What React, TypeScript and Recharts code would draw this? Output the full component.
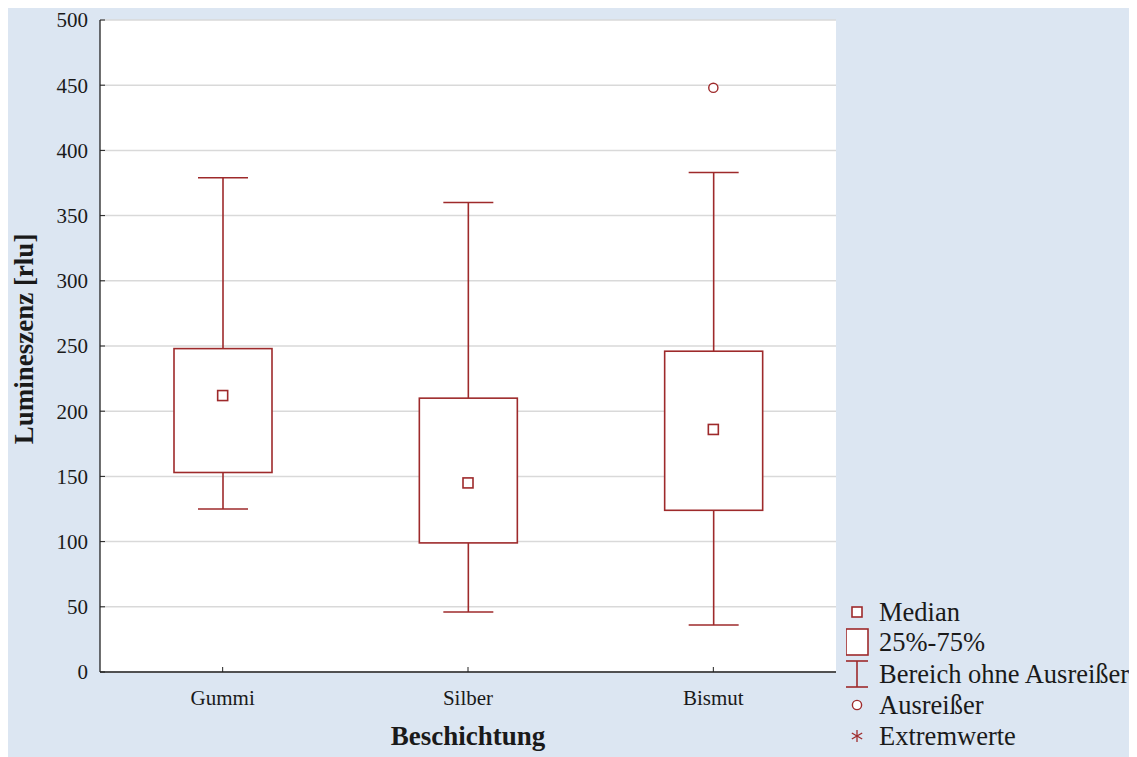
import { ComposedChart, Bar, Scatter, XAxis, YAxis, CartesianGrid, Label } from "recharts";

// Box-plot statistics per coating
const groups = ["Gummi", "Silber", "Bismut"];
const whiskerLow = [125, 46, 36];
const quartile1 = [153, 99, 124];
const medians = [212, 145, 186];
const quartile3 = [248, 210, 246];
const whiskerHigh = [379, 360, 383];
const outliers: (number | null)[] = [null, null, 448];
const yTicks = [0, 50, 100, 150, 200, 250, 300, 350, 400, 450, 500];

const legendItems = ["Median", "25%-75%", "Bereich ohne Ausreißer", "Ausreißer", "Extremwerte"];

const data = groups.map((name, i) => ({
  name,
  range: [whiskerLow[i], whiskerHigh[i]],
  q1: quartile1[i],
  q3: quartile3[i],
  median: medians[i],
  outlier: outliers[i],
}));

const RED = "#9e2a2b";
const INK = "#1a1a1a";
const FONT = '"Liberation Serif", "Times New Roman", serif';

// The bar spans the whisker range; the quartile box is placed inside it
// by mapping values linearly over the bar's own pixel extent.
function BoxWhisker(props: any) {
  const { x, y, width, height, payload } = props;
  const [lo, hi] = payload.range;
  const top = Math.min(y, y + height);
  const h = Math.abs(height);
  const toY = (v: number) => top + (h * (hi - v)) / (hi - lo);
  const cx = x + width / 2;
  const cap = 25;
  const yQ3 = toY(payload.q3);
  const yQ1 = toY(payload.q1);
  return (
    <g stroke={RED} strokeWidth={1.6} fill="none">
      <line x1={cx} x2={cx} y1={top} y2={yQ3} />
      <line x1={cx} x2={cx} y1={yQ1} y2={top + h} />
      <line x1={cx - cap} x2={cx + cap} y1={top} y2={top} />
      <line x1={cx - cap} x2={cx + cap} y1={top + h} y2={top + h} />
      <rect x={x} y={yQ3} width={width} height={yQ1 - yQ3} fill="#fff" />
    </g>
  );
}

const MedianMark = (p: any) =>
  p.cx == null || p.cy == null ? null : (
    <rect x={p.cx - 5} y={p.cy - 5} width={10} height={10} fill="#fff" stroke={RED} strokeWidth={1.6} />
  );

const OutlierMark = (p: any) =>
  p.payload?.outlier == null || p.cy == null || Number.isNaN(p.cy) ? null : (
    <circle cx={p.cx} cy={p.cy} r={4.6} fill="#fff" stroke={RED} strokeWidth={1.4} />
  );

const XTitle = ({ viewBox }: any) => (
  <text
    x={viewBox.x + viewBox.width / 2}
    y={viewBox.y + 73}
    textAnchor="middle"
    fontFamily={FONT}
    fontSize={27}
    fontWeight="bold"
    fill={INK}
  >
    Beschichtung
  </text>
);

const YTitle = ({ viewBox }: any) => {
  const cx = 25;
  const cy = viewBox.y + viewBox.height / 2 - 7;
  return (
    <text
      x={cx}
      y={cy}
      transform={`rotate(-90 ${cx} ${cy})`}
      textAnchor="middle"
      fontFamily={FONT}
      fontSize={27}
      fontWeight="bold"
      fill={INK}
    >
      Lumineszenz [rlu]
    </text>
  );
};

function LegendPanel() {
  const rows = [16, 46, 78, 109, 140];
  const sx = 11;
  return (
    <svg width={295} height={160} style={{ position: "absolute", left: 838, top: 590 }}>
      <g stroke={RED} fill="#fff" strokeWidth={1.6}>
        <rect x={sx - 5} y={rows[0] - 5} width={10} height={10} />
        <rect x={sx - 11} y={rows[1] - 13} width={22} height={26} />
        <line x1={sx - 11} x2={sx + 11} y1={rows[2] - 13} y2={rows[2] - 13} />
        <line x1={sx} x2={sx} y1={rows[2] - 13} y2={rows[2] + 13} />
        <line x1={sx - 11} x2={sx + 11} y1={rows[2] + 13} y2={rows[2] + 13} />
        <circle cx={sx} cy={rows[3]} r={4.6} strokeWidth={1.4} />
        <g strokeWidth={1.3}>
          <line x1={sx} x2={sx} y1={rows[4] - 6} y2={rows[4] + 6} />
          <line x1={sx - 5.2} x2={sx + 5.2} y1={rows[4] - 3} y2={rows[4] + 3} />
          <line x1={sx - 5.2} x2={sx + 5.2} y1={rows[4] + 3} y2={rows[4] - 3} />
        </g>
      </g>
      {legendItems.map((label, i) => (
        <text
          key={label}
          x={33}
          y={rows[i]}
          dy="0.35em"
          fontFamily={FONT}
          fontSize={26.5}
          fill={INK}
        >
          {label}
        </text>
      ))}
    </svg>
  );
}

export default function App() {
  return (
    <div style={{ position: "relative", width: 1129, height: 751, marginTop: -2, background: "#dce6f2" }}>
      <ComposedChart
        width={1129}
        height={751}
        data={data}
        margin={{ top: 14, right: 301, bottom: 45, left: 0 }}
      >
        <CartesianGrid vertical={false} stroke="#d9d9d9" strokeWidth={1.5} fill="#fff" />
        <XAxis
          dataKey="name"
          type="category"
          height={40}
          axisLine={{ stroke: "#222", strokeWidth: 1.3 }}
          tickLine={{ stroke: "#222" }}
          tickSize={-5}
          tickMargin={23}
          tick={{ fill: INK, fontSize: 21, fontFamily: FONT }}
        >
          <Label content={XTitle} />
        </XAxis>
        <XAxis
          xAxisId="top"
          dataKey="name"
          orientation="top"
          height={0}
          tick={false}
          tickLine={false}
          axisLine={{ stroke: "#222", strokeWidth: 1.3 }}
        />
        <YAxis
          domain={[0, 500]}
          ticks={yTicks}
          width={92}
          axisLine={{ stroke: "#222", strokeWidth: 1.3 }}
          tickLine={{ stroke: "#222" }}
          tickSize={-5}
          tickMargin={17}
          tick={{ fill: INK, fontSize: 21, fontFamily: FONT }}
        >
          <Label content={YTitle} />
        </YAxis>
        <YAxis
          yAxisId="right"
          orientation="right"
          domain={[0, 500]}
          width={0}
          tick={false}
          tickLine={false}
          axisLine={{ stroke: "#222", strokeWidth: 1.3 }}
        />
        <Bar dataKey="range" barSize={98} shape={BoxWhisker} isAnimationActive={false} />
        <Scatter dataKey="median" shape={MedianMark} isAnimationActive={false} />
        <Scatter dataKey="outlier" shape={OutlierMark} isAnimationActive={false} />
      </ComposedChart>
      <LegendPanel />
    </div>
  );
}
